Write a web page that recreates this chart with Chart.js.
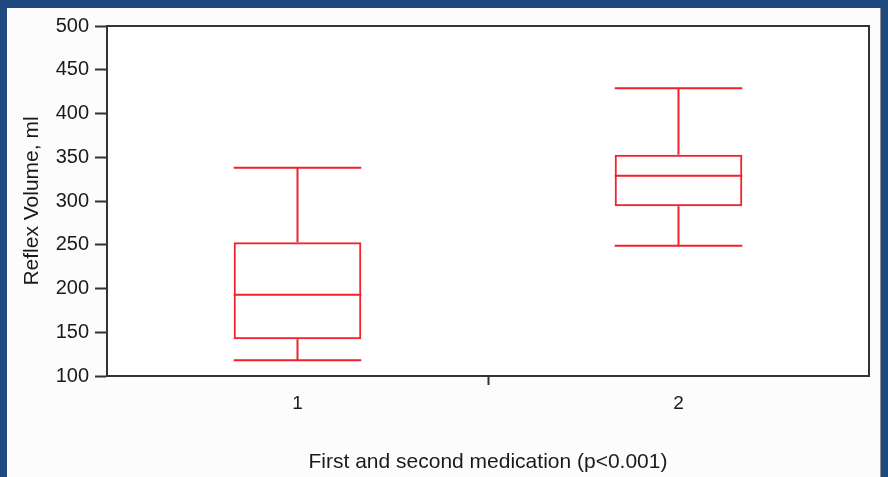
<!DOCTYPE html>
<html>
<head>
<meta charset="utf-8">
<title>Reflex Volume</title>
<script src="https://cdn.jsdelivr.net/npm/chart.js@4/dist/chart.umd.min.js"></script>
<style>
    html, body {
        margin: 0;
        padding: 0;
        width: 888px;
        height: 477px;
        overflow: hidden;
        background: #1e4a80;
    }
    #panel {
        position: absolute;
        left: 7px;
        top: 8px;
        width: 873px;
        height: 469px;
        background: #fcfcfc;
        border-right: 1px solid #8a8f96;
    }
    #boxChart {
        position: absolute;
        left: 0;
        top: 0;
    }
</style>
</head>
<body>
<div id="panel">
    <canvas id="boxChart" width="873" height="469"></canvas>
</div>

<script>
// ------------------------------------------------------
// Data
// ------------------------------------------------------
const categories   = ["1", "2"];
const whiskerLow   = [118, 249];
const quartile1    = [142, 294];
const medians      = [193, 329];
const quartile3    = [253, 353];
const whiskerHigh  = [338, 429];
const yTicks       = [100, 150, 200, 250, 300, 350, 400, 450, 500];

const BOX_RED = "#f0222e";
const AXIS_DARK = "#333333";
const TEXT_DARK = "#1a1a1a";

document.addEventListener("DOMContentLoaded", () => {

    /* ======================================================
       Whiskers + medians, drawn through the chart scales
    ====================================================== */
    const whiskerPlugin = {
        id: "whiskers",
        afterDatasetsDraw(chart) {
            const ctx = chart.ctx;
            const yScale = chart.scales.y;
            const meta = chart.getDatasetMeta(0);

            ctx.save();
            ctx.strokeStyle = BOX_RED;
            ctx.lineWidth = 2;

            meta.data.forEach((bar, i) => {
                const half = bar.width / 2;
                const x = bar.x;
                const yMed = yScale.getPixelForValue(medians[i]);
                const yQ1 = yScale.getPixelForValue(quartile1[i]);
                const yQ3 = yScale.getPixelForValue(quartile3[i]);
                const yLo = yScale.getPixelForValue(whiskerLow[i]);
                const yHi = yScale.getPixelForValue(whiskerHigh[i]);

                ctx.beginPath();
                // median
                ctx.moveTo(x - half, yMed);
                ctx.lineTo(x + half, yMed);
                // upper whisker + cap
                ctx.moveTo(x, yQ3);
                ctx.lineTo(x, yHi);
                ctx.moveTo(x - half, yHi);
                ctx.lineTo(x + half, yHi);
                // lower whisker + cap
                ctx.moveTo(x, yQ1);
                ctx.lineTo(x, yLo);
                ctx.moveTo(x - half, yLo);
                ctx.lineTo(x + half, yLo);
                ctx.stroke();
            });

            ctx.restore();
        }
    };

    // plot frame (top / right sides) + white plot background
    const framePlugin = {
        id: "plotFrame",
        beforeDraw(chart) {
            const a = chart.chartArea;
            chart.ctx.save();
            chart.ctx.fillStyle = "#ffffff";
            chart.ctx.fillRect(a.left, a.top, a.right - a.left, a.bottom - a.top);
            chart.ctx.restore();
        },
        afterDraw(chart) {
            const a = chart.chartArea;
            const ctx = chart.ctx;
            ctx.save();
            ctx.strokeStyle = AXIS_DARK;
            ctx.lineWidth = 2;
            ctx.beginPath();
            ctx.moveTo(a.left, a.top);
            ctx.lineTo(a.right, a.top);
            ctx.lineTo(a.right, a.bottom);
            ctx.stroke();
            ctx.restore();
        }
    };

    /* ======================================================
       BOX PLOT (floating bars for Q1..Q3)
    ====================================================== */
    const canvas = document.getElementById("boxChart");
    if (canvas && typeof Chart !== "undefined") {
        new Chart(canvas, {
            type: "bar",
            data: {
                labels: categories,
                datasets: [{
                    data: categories.map((c, i) => [quartile1[i], quartile3[i]]),
                    backgroundColor: "rgba(0,0,0,0)",
                    borderColor: BOX_RED,
                    borderWidth: 2,
                    borderSkipped: false,
                    categoryPercentage: 1.0,
                    barPercentage: 0.335
                }]
            },
            options: {
                responsive: false,
                animation: false,
                layout: {
                    padding: { top: 16, right: 11, left: 0, bottom: 0 }
                },
                plugins: {
                    legend: { display: false },
                    tooltip: { enabled: false }
                },
                scales: {
                    x: {
                        offset: true,
                        grid: {
                            offset: true,
                            drawOnChartArea: false,
                            drawTicks: true,
                            tickLength: 9,
                            tickWidth: 2,
                            // only the divider between the two groups
                            tickColor: ctx => ctx.index === 1 ? AXIS_DARK : "rgba(0,0,0,0)"
                        },
                        border: { color: AXIS_DARK, width: 2 },
                        ticks: {
                            color: TEXT_DARK,
                            padding: 7,
                            maxRotation: 0,
                            font: { family: "'Liberation Sans', Arial, sans-serif", size: 19 }
                        },
                        title: {
                            display: true,
                            text: "First and second medication (p<0.001)",
                            color: TEXT_DARK,
                            padding: { top: 0, bottom: 2 },
                            font: { family: "'Liberation Sans', Arial, sans-serif", size: 21 }
                        },
                        afterFit: scale => { scale.height = 101; }
                    },
                    y: {
                        min: 100,
                        max: 500,
                        afterBuildTicks: scale => {
                            scale.ticks = yTicks.map(v => ({ value: v }));
                        },
                        grid: {
                            drawOnChartArea: false,
                            drawTicks: true,
                            tickLength: 12,
                            tickWidth: 2,
                            tickColor: AXIS_DARK
                        },
                        border: { color: AXIS_DARK, width: 2 },
                        ticks: {
                            color: TEXT_DARK,
                            padding: 6,
                            font: { family: "'Liberation Sans', Arial, sans-serif", size: 20 }
                        },
                        title: {
                            display: true,
                            text: "Reflex Volume, ml",
                            color: TEXT_DARK,
                            padding: { top: 13, bottom: 0 },
                            font: { family: "'Liberation Sans', Arial, sans-serif", size: 21 }
                        },
                        afterFit: scale => { scale.width = 100; }
                    }
                }
            },
            plugins: [framePlugin, whiskerPlugin]
        });
    }

});
</script>
</body>
</html>
